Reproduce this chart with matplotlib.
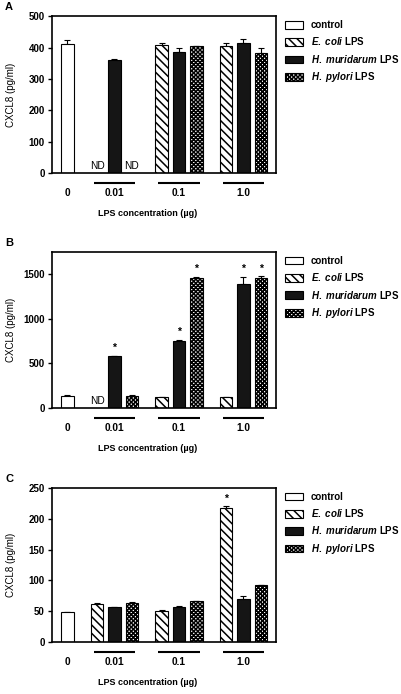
import numpy as np
import matplotlib
matplotlib.use('Agg')
import matplotlib.pyplot as plt
from matplotlib.patches import Patch
from matplotlib.transforms import blended_transform_factory

plt.rcParams['font.family'] = 'Liberation Sans'
plt.rcParams['font.weight'] = 'bold'
plt.rcParams['mathtext.fontset'] = 'custom'
plt.rcParams['mathtext.rm'] = 'Liberation Sans:bold'
plt.rcParams['mathtext.bf'] = 'Liberation Sans:bold'
plt.rcParams['mathtext.it'] = 'Liberation Sans:bold:italic'
plt.rcParams['hatch.linewidth'] = 1.1

# ---- data ----
doses = ['0.01', '0.1', '1.0']
ctrl_label = '0'
legend_labels = ['control', r'$\mathit{E.\ coli}$ LPS',
                 r'$\mathit{H.\ muridarum}$ LPS', r'$\mathit{H.\ pylori}$ LPS']

# panel A  (nan = ND)
a_ctrl, a_ctrl_err = 410, 15
a_ecoli = [np.nan, 407, 405]
a_ecoli_err = [0, 8, 8]
a_murid = [360, 385, 415]
a_murid_err = [4, 12, 12]
a_pylori = [np.nan, 404, 381]
a_pylori_err = [0, 2, 16]
a_star = [[], [], []]

# panel B
b_ctrl, b_ctrl_err = 140, 3
b_ecoli = [np.nan, 125, 125]
b_ecoli_err = [0, 2, 2]
b_murid = [580, 749, 1397]
b_murid_err = [5, 15, 75]
b_pylori = [140, 1461, 1461]
b_pylori_err = [3, 10, 15]
b_star = [[], [0, 1, 2], [1, 2]]

# panel C
c_ctrl, c_ctrl_err = 48.5, 0.5
c_ecoli = [62.5, 51, 218]
c_ecoli_err = [1.5, 0.5, 2]
c_murid = [57, 57.6, 70]
c_murid_err = [0.5, 1, 4]
c_pylori = [63.6, 66.8, 92]
c_pylori_err = [1, 0.5, 1]
c_star = [[2], [], []]

# ---- layout ----
ctrl_x = 0.9
grp_x = np.array([3.6, 7.3, 11.0])
bw = 0.72
styles = [dict(facecolor='white', hatch='\\\\\\\\'),
          dict(facecolor='#151515'),
          dict(facecolor='white', hatch='xxxxxxxx')]

fig = plt.figure(figsize=(4.01, 6.94), dpi=100)


def panel(rect, letter, ymax, ystep, ctrl, ctrl_err, vals, errs, stars):
    ax = fig.add_axes(rect)
    ax.set_xlim(0, 12.86)
    ax.set_ylim(0, ymax)
    ax.bar(ctrl_x, ctrl, bw, facecolor='white', edgecolor='black', lw=0.8, zorder=2)
    ax.errorbar(ctrl_x, ctrl, yerr=[[0], [ctrl_err]], fmt='none', ecolor='black',
                elinewidth=0.8, capsize=2.5, capthick=0.8, zorder=1)
    for i, (v, e, st) in enumerate(zip(vals, errs, styles)):
        x = grp_x + (i - 1)
        v = np.array(v, dtype=float)
        ok = ~np.isnan(v)
        ax.bar(x[ok], v[ok], bw, edgecolor='black', lw=0.8, zorder=2, **st)
        ax.errorbar(x[ok], v[ok], yerr=[np.zeros(ok.sum()), np.array(e)[ok]], fmt='none',
                    ecolor='black', elinewidth=0.8, capsize=2.5, capthick=0.8, zorder=1)
        for j in np.where(~ok)[0]:
            ax.annotate('ND', (x[j], 0), xytext=(0, 1.5), textcoords='offset points',
                        ha='center', va='bottom', fontsize=7.3, fontweight='normal')
        for j in stars[i]:
            ax.annotate('*', (x[j], v[j] + e[j]), xytext=(0, 2), textcoords='offset points',
                        ha='center', va='bottom', fontsize=7.5)
    for s in ax.spines.values():
        s.set_linewidth(1.2)
    ax.set_yticks(np.arange(0, ymax + 1, ystep))
    ax.tick_params(axis='y', direction='out', length=3, width=1, labelsize=7, pad=2)
    ax.set_xticks([])
    h = rect[3] * 694
    tr = blended_transform_factory(ax.transData, ax.transAxes)
    for c in grp_x:
        ax.plot([c - 1.2, c + 1.2], [-10 / h] * 2, color='black', lw=1.5,
                transform=tr, clip_on=False, solid_capstyle='butt')
    ax.text(ctrl_x, -20 / h, ctrl_label, transform=tr, ha='center', va='center', fontsize=7.3)
    for c, d in zip(grp_x, doses):
        ax.text(c, -20 / h, d, transform=tr, ha='center', va='center', fontsize=7.3)
    ax.text(0.43, -40 / h, 'LPS concentration (\u00b5g)', transform=ax.transAxes,
            ha='center', va='center', fontsize=6.5)
    ax.set_ylabel('CXCL8 (pg/ml)', fontsize=7)
    ax.yaxis.set_label_coords(-0.16, 0.5)
    handles = [Patch(facecolor='white', edgecolor='black', lw=0.8)] + \
              [Patch(edgecolor='black', lw=0.8, **st) for st in styles]
    ax.legend(handles, legend_labels, loc='upper left', bbox_to_anchor=(1.04, 0.975),
              frameon=False, borderaxespad=0, borderpad=0, fontsize=7,
              handlelength=1.85, handleheight=0.85, handletextpad=0.8, labelspacing=0.55)
    fig.text(5 / 401, rect[1] + rect[3] + 9 / 694, letter, fontsize=8,
             ha='left', va='center')
    return ax


panel([0.129, 0.7507, 0.559, 0.226], 'A', 500, 100,
      a_ctrl, a_ctrl_err, [a_ecoli, a_murid, a_pylori],
      [a_ecoli_err, a_murid_err, a_pylori_err], a_star)
panel([0.129, 0.412, 0.559, 0.2248], 'B', 1750, 500,
      b_ctrl, b_ctrl_err, [b_ecoli, b_murid, b_pylori],
      [b_ecoli_err, b_murid_err, b_pylori_err], b_star)
panel([0.129, 0.0749, 0.559, 0.222], 'C', 250, 50,
      c_ctrl, c_ctrl_err, [c_ecoli, c_murid, c_pylori],
      [c_ecoli_err, c_murid_err, c_pylori_err], c_star)

fig.savefig('out.png', dpi=100)
